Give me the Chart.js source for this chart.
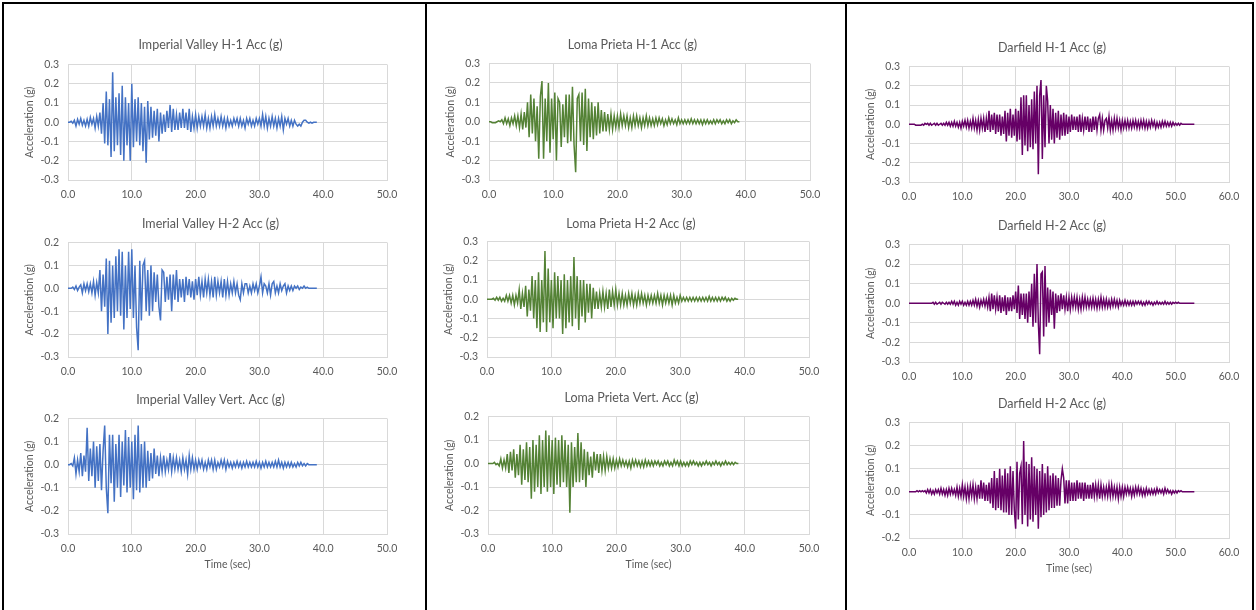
<!DOCTYPE html>
<html>
<head>
<meta charset="utf-8">
<title>Ground motion records</title>
<script src="https://cdn.jsdelivr.net/npm/chart.js@4.4.0/dist/chart.umd.min.js"></script>
<style>
body { margin: 0; width: 1256px; height: 610px; background: #fff; position: relative; overflow: hidden; }
canvas { position: absolute; }
.ln { position: absolute; background: #000; }
</style>
</head>
<body>
<div class="ln" style="left:2px;top:2px;width:1252px;height:2px"></div>
<div class="ln" style="left:2px;top:2px;width:2px;height:608px"></div>
<div class="ln" style="left:1252px;top:2px;width:2px;height:608px"></div>
<div class="ln" style="left:425px;top:2px;width:2px;height:608px"></div>
<div class="ln" style="left:845px;top:2px;width:2px;height:608px"></div>

<canvas id="c1"></canvas><canvas id="c2"></canvas><canvas id="c3"></canvas>
<canvas id="c4"></canvas><canvas id="c5"></canvas><canvas id="c6"></canvas>
<canvas id="c7"></canvas><canvas id="c8"></canvas><canvas id="c9"></canvas>

<script>
// sample spacing of the digitised records (sec), values in g
var DT = 0.25;

var ivH1 = [
  0, 0, 0.005, -0.005,  0.01, -0.02, 0.015, -0.01,  0.02, -0.015, 0.01, -0.02,  0.015, -0.02, 0.025, -0.01,  0.02, -0.03, 0.03, -0.02,
  0.05, -0.06, 0.1, -0.11,  0.16, -0.12, 0.12, -0.18,  0.26, -0.15, 0.13, -0.12,  0.15, -0.17, 0.19, -0.2,  0.13, -0.12, 0.1, -0.2,
  0.2, -0.13, 0.12, -0.1,  0.13, -0.12, 0.1, -0.15,  0.08, -0.21, 0.11, -0.09,  0.08, -0.08, 0.06, -0.07,  0.07, -0.1, 0.05, -0.06,
  0.04, -0.05, 0.06, -0.03,  0.09, -0.05, 0.07, -0.04,  0.04, -0.04, 0.05, -0.03,  0.07, -0.03, 0.05, -0.04,  0.07, -0.05, 0.03, -0.03,
  0.04, -0.03, 0.03, -0.02,  0.03, -0.02, 0.04, -0.03,  0.02, -0.03, 0.03, -0.02,  0.04, -0.02, 0.02, -0.02,  0.03, -0.02, 0.02, -0.03,
  0.02, -0.02, 0.01, -0.02,  0.02, -0.01, 0.02, -0.02,  0.02, -0.02, 0.01, -0.03,  0.02, -0.01, 0.02, -0.02,  0.01, -0.02, 0.02, -0.01,
  0.02, -0.02, 0.04, -0.02,  0.03, -0.03, 0.02, -0.02,  0.03, -0.02, 0.02, -0.03,  0.02, -0.02, 0.03, -0.04,  0.02, -0.01, 0.02, -0.02,
  0.01, -0.02, 0.01, -0.01,  -0.02, -0.01, -0.02, 0,  0.01, 0.01, 0, -0.005,  0, -0.005, 0, 0,
  0
];

var ivH2 = [
  0, 0, 0, 0.005,  -0.005, 0.01, -0.01, 0.005,  0.015, -0.02, 0.02, -0.01,  0.02, -0.015, 0.02, -0.02,  0.03, -0.03, 0.025, -0.02,
  0.08, -0.1, 0.06, -0.08,  0.13, -0.2, 0.12, -0.15,  0.1, -0.13, 0.14, -0.1,  0.17, -0.12, 0.16, -0.18,  0.1, -0.13, 0.16, -0.09,
  0.17, -0.13, 0.1, -0.17,  -0.27, 0.12, -0.14, 0.1,  0.12, -0.1, 0.08, -0.12,  0.1, -0.1, 0.07, -0.06,  0.06, -0.08, -0.14, 0.08,
  0.07, -0.06, 0.05, -0.05,  0.06, -0.1, 0.06, -0.05,  0.08, -0.06, 0.04, -0.04,  0.04, -0.06, 0.05, -0.03,  0.04, -0.04, 0.03, -0.05,
  0.04, -0.03, 0.05, -0.03,  0.03, -0.04, 0.04, -0.02,  0.04, -0.03, 0.03, -0.04,  0.05, -0.03, 0.03, -0.02,  0.03, -0.04, 0.04, -0.03,
  0.03, -0.03, 0.02, -0.02,  0.03, -0.02, 0.02, -0.03,  -0.05, 0.02, -0.02, 0.02,  0.02, -0.02, 0.01, -0.02,  0.02, -0.01, 0.02, -0.02,
  0.01, 0.05, -0.02, 0.02,  0.01, -0.02, 0.02, -0.03,  0.02, 0.03, -0.02, 0.01,  -0.02, 0.02, -0.01, 0.01,  0.02, -0.02, 0.01, -0.01,
  0.01, -0.01, 0.01, 0,  0.01, -0.005, 0.005, 0,  0.01, 0, 0.005, 0,  0, 0, 0, 0,
  0
];

var ivVert = [
  0, 0, 0.005, -0.005,  0.03, -0.04, 0.02, -0.03,  0.05, -0.05, 0.04, -0.03,  0.16, -0.07, 0.07, -0.05,  0.1, -0.1, 0.08, -0.07,
  0.09, -0.11, 0.06, 0.17,  -0.1, -0.21, 0.13, -0.08,  0.13, -0.16, 0.09, -0.1,  0.13, -0.14, 0.1, -0.09,  0.15, -0.12, 0.12, -0.1,
  0.1, -0.15, 0.13, -0.11,  0.17, -0.12, 0.09, -0.1,  0.1, -0.1, 0.06, -0.07,  0.05, -0.06, 0.07, -0.04,  0.04, -0.05, 0.03, -0.03,
  0.04, -0.03, 0.02, -0.02,  0.05, -0.03, 0.03, -0.02,  0.03, -0.02, 0.02, -0.03,  0.03, -0.02, 0.02, -0.04,  0.04, -0.02, 0.03, -0.02,
  0.02, -0.02, 0.02, -0.01,  0.02, -0.02, 0.01, -0.02,  0.02, -0.01, 0.02, -0.02,  0.02, -0.02, 0.01, -0.01,  0.02, -0.01, 0.02, -0.02,
  0.015, -0.01, 0.01, -0.015,  0.01, -0.01, 0.015, -0.01,  0.01, -0.015, 0.01, -0.01,  0.015, -0.01, 0.01, -0.01,  0.01, -0.01, 0.015, -0.01,
  0.01, -0.015, 0.01, -0.01,  0.015, -0.01, 0.01, -0.01,  0.01, -0.01, 0.015, -0.01,  0.02, -0.01, 0.01, -0.015,  0.01, -0.01, 0.01, -0.01,
  0.01, -0.01, 0.005, -0.01,  0.01, -0.005, 0.01, -0.005,  0.005, -0.005, 0.005, 0,  0, 0, 0, 0,
  0
];

var lpH1 = [
  0, 0, -0.005, -0.005,  -0.005, 0, 0.005, 0,  0.01, -0.01, 0.02, -0.01,  0.015, -0.02, 0.02, -0.01,  0.03, -0.02, 0.03, -0.03,
  0.04, -0.04, 0.05, -0.03,  0.1, -0.08, 0.14, -0.06,  0.12, -0.1, 0.08, -0.19,  0.13, 0.21, -0.19, 0.12,  -0.1, 0.2, -0.16, 0.12,
  -0.09, 0.15, -0.2, 0.12,  0.1, -0.13, 0.09, -0.08,  0.14, -0.11, 0.14, -0.1,  0.18, -0.12, -0.26, 0.12,  0.14, -0.1, 0.15, -0.12,
  0.17, -0.15, 0.12, -0.08,  0.1, -0.09, 0.08, -0.07,  0.1, -0.06, 0.06, -0.05,  0.05, -0.05, 0.04, -0.04,  0.04, -0.04, 0.03, -0.03,
  0.03, -0.03, 0.04, -0.02,  0.03, -0.02, 0.03, -0.03,  0.02, -0.03, 0.03, -0.02,  0.03, -0.02, 0.02, -0.03,  0.02, -0.02, 0.03, -0.02,
  0.02, -0.02, 0.015, -0.02,  0.02, -0.015, 0.02, -0.01,  0.015, -0.02, 0.01, -0.015,  0.02, -0.01, 0.015, -0.01,  0.01, -0.015, 0.02, -0.01,
  0.01, -0.01, 0.01, -0.01,  0.01, -0.01, 0.015, -0.01,  0.01, -0.01, 0.01, -0.01,  0.01, -0.015, 0.01, -0.01,  0.01, -0.01, 0.005, -0.01,
  0.01, -0.01, 0.01, -0.005,  0.01, -0.01, 0.005, -0.01,  0.01, -0.005, 0.01, -0.01,  0.005, -0.005, 0.01, 0,
  0
];

var lpH2 = [
  0, 0, 0, 0,  0.005, -0.005, 0.01, -0.005,  0.01, -0.01, 0.005, -0.01,  0.02, -0.01, 0.02, -0.02,  0.02, -0.03, 0.02, -0.02,
  0.05, -0.05, 0.03, -0.04,  0.07, -0.09, 0.05, -0.06,  0.12, -0.1, 0.1, -0.15,  0.14, -0.17, 0.1, -0.12,  0.25, -0.17, 0.16, -0.12,
  0.1, -0.15, 0.14, -0.1,  0.12, -0.1, 0.1, -0.18,  0.13, -0.15, 0.1, -0.12,  0.12, -0.14, 0.22, -0.1,  0.12, -0.16, 0.1, -0.09,
  0.1, -0.12, 0.08, -0.07,  0.08, -0.1, 0.06, -0.05,  0.04, -0.05, 0.03, -0.04,  0.04, -0.04, 0.03, -0.05,  0.05, -0.04, 0.04, -0.03,
  0.05, -0.03, 0.03, -0.03,  0.03, -0.03, 0.02, -0.03,  0.03, -0.02, 0.03, -0.03,  0.02, -0.03, 0.03, -0.02,  0.03, -0.02, 0.02, -0.03,
  0.02, -0.02, 0.02, -0.02,  0.02, -0.02, 0.03, -0.02,  0.02, -0.03, 0.02, -0.02,  0.02, -0.02, 0.02, -0.03,  0.02, -0.02, 0.01, -0.02,
  0.02, -0.01, 0.01, -0.01,  0.01, -0.01, 0.01, -0.01,  0.01, -0.01, 0.01, -0.01,  0.01, -0.01, 0.01, -0.01,  0.01, -0.01, 0.015, -0.01,
  0.01, -0.01, 0.01, -0.01,  0.01, -0.01, 0.01, -0.005,  0.01, -0.01, 0.005, -0.01,  0.005, -0.005, 0.005, 0,
  0
];

var lpVert = [
  0, 0, 0, 0,  0.005, -0.005, 0, -0.01,  0.02, -0.02, 0.015, -0.02,  0.04, -0.04, 0.05, -0.03,  0.06, -0.06, 0.04, -0.05,
  0.08, -0.09, 0.06, -0.07,  0.09, -0.08, 0.07, -0.15,  0.1, -0.12, 0.08, -0.1,  0.12, -0.13, 0.1, -0.1,  0.14, -0.12, 0.12, -0.1,
  0.1, -0.13, 0.11, -0.09,  0.1, -0.1, 0.12, -0.08,  0.1, -0.1, 0.08, -0.21,  0.09, -0.1, 0.07, -0.08,  0.13, -0.08, 0.09, -0.07,
  0.06, -0.1, 0.05, -0.05,  0.03, -0.06, 0.05, -0.03,  0.04, -0.04, 0.04, -0.03,  0.03, -0.03, 0.03, -0.02,  0.02, -0.02, 0.02, -0.02,
  0.015, -0.015, 0.02, -0.01,  0.015, -0.01, 0.01, -0.015,  0.01, -0.02, 0.015, -0.01,  0.015, -0.01, 0.01, -0.015,  0.01, -0.015, 0.015, -0.01,
  0.01, -0.01, 0.01, -0.01,  0.01, -0.005, 0.01, -0.01,  0.005, -0.01, 0.01, -0.005,  0.01, -0.01, 0.005, -0.01,  0.015, -0.005, 0.01, -0.01,
  0.01, -0.01, 0.005, -0.01,  0.005, -0.01, 0.01, -0.005,  0.01, -0.005, 0.005, -0.01,  0.005, -0.01, 0.005, -0.005,  0.01, -0.005, 0.005, -0.01,
  0.005, -0.005, 0.01, -0.005,  0.005, -0.01, 0.005, -0.005,  0.01, -0.005, 0.005, -0.005,  0.005, -0.005, 0.005, 0,
  0
];

var dfH1 = [
  0, 0, 0, 0,  0, -0.005, -0.005, -0.005,  -0.005, -0.005, 0, -0.005,  0.005, 0, 0.005, -0.005,  0.005, -0.005, 0, 0.005,
  -0.005, 0.005, -0.005, 0,  0.005, -0.005, 0.005, -0.005,  0.01, -0.005, 0.01, -0.01,  0.01, -0.01, 0.015, -0.01,  0.01, -0.015, 0.01, -0.02,
  0.015, -0.01, 0.02, -0.015,  0.02, -0.02, 0.015, -0.02,  0.03, -0.02, 0.02, -0.03,  0.025, -0.03, 0.03, -0.02,  0.03, -0.04, 0.03, -0.03,
  0.07, -0.04, 0.05, -0.03,  0.06, -0.05, 0.05, -0.04,  0.05, -0.06, 0.04, -0.05,  0.07, -0.09, 0.06, -0.06,  0.08, -0.07, 0.05, -0.06,
  0.08, -0.09, 0.07, -0.08,  0.14, -0.16, 0.15, -0.11,  0.15, -0.14, 0.1, -0.12,  0.13, -0.13, 0.17, -0.1,  0.2, -0.26, 0.15, 0.23,
  -0.18, 0.15, -0.12, 0.2,  0.12, -0.1, 0.1, -0.08,  0.08, -0.1, 0.06, -0.07,  0.07, -0.08, 0.05, -0.06,  0.06, -0.06, 0.05, -0.05,
  0.04, -0.04, 0.05, -0.03,  0.04, -0.03, 0.04, -0.04,  0.05, -0.04, 0.03, -0.03,  0.04, -0.03, 0.04, -0.04,  0.03, -0.04, 0.04, -0.03,
  0.04, -0.03, 0.03, 0.05,  -0.03, 0.03, -0.03, 0.02,  0.03, -0.02, 0.04, -0.03,  0.02, -0.03, 0.03, -0.02,  0.03, -0.02, 0.02, -0.03,
  0.02, -0.02, 0.02, -0.02,  0.02, -0.02, 0.015, -0.02,  0.02, -0.015, 0.02, -0.02,  0.015, -0.02, 0.02, -0.015,  0.02, -0.02, 0.015, -0.02,
  0.015, -0.015, 0.02, -0.01,  0.015, -0.02, 0.01, -0.015,  0.01, -0.015, 0.015, -0.01,  0.015, -0.01, 0.01, -0.01,  0.01, -0.01, 0.01, -0.005,
  0.005, -0.005, 0.005, -0.005,  0.005, 0, 0, 0,  0, 0, 0, 0,  0, 0,
  0
];

var dfH2 = [
  0, 0, 0, 0,  0, 0, 0, 0,  0, 0, 0, 0,  0, 0, 0, 0,  0, 0, 0.005, -0.005,
  0.005, -0.005, 0, 0.005,  -0.005, 0.005, 0, -0.005,  0.005, -0.005, 0.005, -0.005,  0.01, -0.005, 0.01, -0.01,  0.005, -0.01, 0.01, -0.005,
  0.01, -0.01, 0.005, -0.01,  0.01, -0.01, 0.01, -0.01,  0.015, -0.01, 0.02, -0.015,  0.015, -0.02, 0.015, -0.01,  0.02, -0.015, 0.02, -0.02,
  0.03, -0.04, 0.05, -0.03,  0.04, -0.03, 0.03, -0.04,  0.04, -0.05, 0.03, -0.04,  0.04, -0.06, 0.03, -0.04,  0.03, -0.04, 0.04, -0.03,
  0.06, -0.05, 0.09, -0.08,  0.05, -0.06, 0.05, -0.08,  0.05, -0.1, 0.06, -0.07,  0.1, -0.12, 0.15, -0.1,  0.2, -0.1, -0.26, 0.15,
  0.16, -0.17, 0.19, -0.12,  0.08, -0.1, 0.07, -0.06,  0.06, -0.13, 0.05, -0.05,  0.04, -0.04, 0.05, -0.03,  0.04, -0.03, 0.03, -0.04,
  0.03, -0.03, 0.03, -0.02,  0.03, -0.02, 0.03, -0.03,  0.02, -0.03, 0.03, -0.02,  0.03, -0.02, 0.02, -0.02,  0.02, -0.02, 0.025, -0.02,
  0.02, -0.025, 0.02, -0.02,  0.03, -0.02, 0.02, -0.02,  0.02, -0.02, 0.015, -0.02,  0.02, -0.015, 0.02, -0.015,  0.015, -0.02, 0.015, -0.01,
  0.01, -0.01, 0.015, -0.01,  0.01, -0.01, 0.01, -0.01,  0.01, -0.01, 0.01, -0.005,  0.01, -0.005, 0.01, -0.01,  0.005, -0.01, 0.01, -0.005,
  0.01, -0.005, 0.005, -0.01,  0.005, -0.005, 0.01, -0.005,  0.005, -0.005, 0.005, -0.005,  0.01, -0.005, 0.005, -0.005,  0.005, -0.005, 0.005, 0,
  0.005, 0, 0.005, 0,  0, 0, 0, 0,  0, 0, 0, 0,  0, 0,
  0
];

var dfH2b = [
  0, 0, 0, 0,  0, 0, 0.005, 0,  0.005, 0, 0.005, 0,  0.005, -0.005, 0.01, -0.005,  0.01, -0.01, 0.005, -0.01,
  0.01, -0.005, 0.01, -0.01,  0.015, -0.01, 0.01, -0.015,  0.01, -0.015, 0.015, -0.01,  0.015, -0.01, 0.01, -0.015,  0.02, -0.02, 0.015, -0.02,
  0.03, -0.02, 0.02, -0.03,  0.02, -0.03, 0.025, -0.02,  0.03, -0.03, 0.02, -0.03,  0.03, -0.03, 0.05, -0.03,  0.04, -0.04, 0.03, -0.04,
  0.04, -0.05, 0.06, -0.07,  0.09, -0.08, 0.06, -0.07,  0.1, -0.08, 0.07, -0.09,  0.1, -0.09, 0.08, -0.1,  0.11, -0.1, 0.09, -0.08,
  -0.16, 0.13, -0.12, 0.08,  0.11, -0.14, 0.22, -0.1,  0.13, -0.15, 0.12, -0.12,  0.15, -0.13, 0.11, -0.1,  0.1, -0.16, 0.09, -0.11,
  0.12, -0.1, 0.08, -0.09,  0.11, -0.08, 0.07, -0.07,  0.08, -0.07, 0.07, -0.06,  0.06, -0.06, 0.05, 0.1,  0.06, -0.05, 0.05, -0.05,
  0.05, -0.04, 0.04, -0.04,  0.04, -0.04, 0.05, -0.03,  0.04, -0.03, 0.04, -0.04,  0.04, -0.03, 0.03, -0.03,  0.03, -0.03, 0.04, -0.02,
  0.03, -0.02, 0.03, -0.03,  0.03, -0.02, 0.02, -0.02,  0.02, -0.02, 0.03, -0.02,  0.03, -0.02, 0.02, -0.02,  0.02, -0.03, 0.02, -0.02,
  0.02, -0.02, 0.02, -0.01,  0.02, -0.01, 0.015, -0.02,  0.015, -0.015, 0.02, -0.01,  0.02, -0.01, 0.015, -0.015,  0.01, -0.015, 0.015, -0.01,
  0.01, -0.01, 0.01, -0.01,  0.01, -0.01, 0.015, -0.005,  0.01, -0.005, 0.01, -0.01,  0.015, -0.005, 0.01, -0.005,  0.005, -0.01, 0.005, -0.005,
  0.005, -0.005, 0.005, 0,  0.005, 0, 0, 0,  0, 0, 0, 0,  0, 0,
  0
];

var titles = ["Imperial Valley H-1 Acc (g)", "Imerial Valley H-2 Acc (g)", "Imperial Valley Vert. Acc (g)",
  "Loma Prieta H-1 Acc (g)", "Loma Prieta H-2 Acc (g)", "Loma Prieta Vert. Acc (g)",
  "Darfield H-1 Acc (g)", "Darfield H-2 Acc (g)", "Darfield H-2 Acc (g)"];
var records = [ivH1, ivH2, ivVert, lpH1, lpH2, lpVert, dfH1, dfH2, dfH2b];
var xMaxes = [50, 50, 50, 50, 50, 50, 60, 60, 60];
var yMins = [-0.3, -0.3, -0.3, -0.3, -0.3, -0.3, -0.3, -0.3, -0.2];
var yMaxes = [0.3, 0.2, 0.2, 0.3, 0.3, 0.2, 0.3, 0.3, 0.3];

var BLUE = '#4472C4', GREEN = '#548235', PURPLE = '#660066';
var colors = [BLUE, BLUE, BLUE, GREEN, GREEN, GREEN, PURPLE, PURPLE, PURPLE];

// plot area boxes on the page: left, right, top, bottom, title centre
var boxes = [
  { l: 68, r: 387, t: 64, b: 179, ty: 44 },
  { l: 68, r: 387, t: 242, b: 356, ty: 223 },
  { l: 68, r: 387, t: 418, b: 533, ty: 399 },
  { l: 489, r: 810, t: 63, b: 179, ty: 44 },
  { l: 487, r: 809, t: 241, b: 356, ty: 223 },
  { l: 488, r: 809, t: 416, b: 533, ty: 397 },
  { l: 909, r: 1229, t: 66, b: 181, ty: 47 },
  { l: 909, r: 1229, t: 244, b: 361, ty: 225 },
  { l: 909, r: 1229, t: 422, b: 537, ty: 403 }
];

var GREY = '#595959';
var GRID = '#d9d9d9';
var FONT = 'Lato, "Open Sans", sans-serif';

function fmt(v) {
    return Math.abs(v) < 1e-9 ? '0.0' : v.toFixed(1);
}

function drawRecord(k) {
    var box = boxes[k];
    var withTime = (k % 3 == 2);
    var xh = withTime ? 42 : 22;
    var top = box.ty - 11.5;
    var cv = document.getElementById('c' + (k + 1));
    cv.width = box.r - box.l + 70;
    cv.height = Math.round(box.b + xh - top);
    cv.style.left = (box.l - 50) + 'px';
    cv.style.top = top + 'px';

    new Chart(cv, {
        type: 'line',
        data: {
            datasets: [{
                data: records[k].map(function (v, i) { return { x: i * DT, y: v }; }),
                borderColor: colors[k],
                borderWidth: 1.5,
                pointRadius: 0,
                tension: 0,
                fill: false
            }]
        },
        options: {
            responsive: false,
            animation: false,
            // small right padding so the title centres like Excel's; the x axis reserves the rest
            layout: { padding: { left: 0, right: 4, top: 0, bottom: 0 } },
            plugins: {
                legend: { display: false },
                tooltip: { enabled: false },
                title: {
                    display: true,
                    text: titles[k],
                    color: GREY,
                    font: { family: FONT, size: 12.5, weight: 'normal' },
                    padding: { top: 4, bottom: box.t - box.ty - 7.5 }
                }
            },
            scales: {
                x: {
                    type: 'linear',
                    min: 0,
                    max: xMaxes[k],
                    afterFit: function (s) { s.height = xh; s.paddingRight = 20; },
                    ticks: { stepSize: 10, padding: 8, color: GREY, maxRotation: 0, autoSkip: false,
                             font: { family: FONT, size: 10.5 }, callback: fmt },
                    grid: { color: GRID, drawTicks: false },
                    border: { color: GRID },
                    title: { display: withTime, text: 'Time (sec)', color: GREY,
                             font: { family: FONT, size: 10.5 }, padding: { top: 0, bottom: 5 } }
                },
                y: {
                    min: yMins[k],
                    max: yMaxes[k],
                    afterFit: function (s) { s.width = 50; },
                    ticks: { stepSize: 0.1, padding: 9, color: GREY,
                             font: { family: FONT, size: 10.5 }, callback: fmt },
                    grid: { color: GRID, drawTicks: false },
                    border: { color: GRID },
                    title: { display: true, text: 'Acceleration (g)', color: GREY,
                             font: { family: FONT, size: 10.5 }, padding: { top: 5, bottom: 0 } }
                }
            }
        }
    });
}

for (var k = 0; k < 9; k++) {
    drawRecord(k);
}
</script>
</body>
</html>
